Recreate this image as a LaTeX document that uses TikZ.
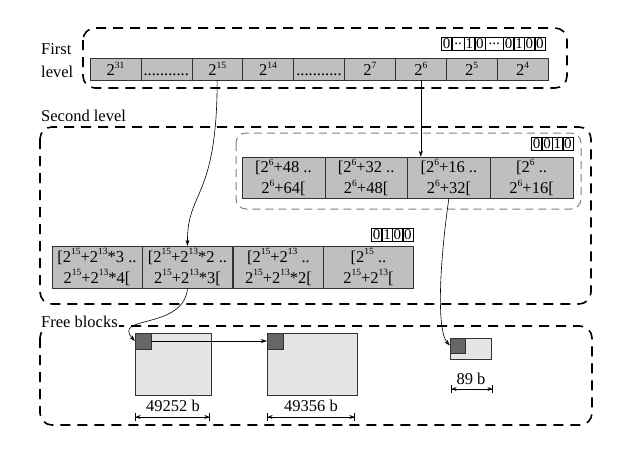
\documentclass[tikz,border=0pt]{standalone}
\usepackage{fontspec}
\setmainfont{Liberation Serif}
\usetikzlibrary{arrows.meta,positioning}
\newcommand\pw[1]{2\raisebox{7.5pt}{\fontsize{9.5}{10}\selectfont #1}}

\begin{document}
\begin{tikzpicture}[x=1pt,y=-1pt,
  every node/.style={font=\fontsize{16.5}{21}\selectfont},
  lvl/.style={draw,line width=1.6pt,dash pattern=on 10pt off 7pt,rounded corners=12pt},
  sub/.style={draw=gray,line width=1pt,dash pattern=on 8pt off 5pt,rounded corners=10pt},
  cell/.style={draw=black!80,fill=black!25,minimum width=50.9pt,minimum height=22pt,inner sep=0pt},
  icell/.style={cell,minimum width=82.75pt,minimum height=41pt,align=center},
  rcell/.style={cell,minimum width=90.3pt,minimum height=42pt,align=center},
  bit/.style={draw,fill=white,minimum width=10pt,minimum height=13pt,inner sep=0.5pt,font=\fontsize{15}{15}\selectfont},
  fblk/.style={draw=black!80,fill=black!10,inner sep=0pt},
  hdr/.style={draw=black!80,fill=black!60,minimum size=16pt,inner sep=0pt,anchor=north west},
  lab/.style={inner sep=0pt,font=\fontsize{16.5}{23}\selectfont},
  link/.style={-{Stealth[length=6pt,width=4pt]},line width=0.6pt},
  dim/.style={{Bar[width=8pt]Stealth[length=5pt,width=4pt]}-{Stealth[length=5pt,width=4pt]Bar[width=8pt]},line width=0.6pt}]
  \useasboundingbox (0,0) rectangle (636,448);

  % dashed frames
  \draw[lvl] (83,28) rectangle (567,88);
  \draw[lvl] (40,127) rectangle (591,304);
  \draw[sub] (236,133) rectangle (581,209);
  \draw[lvl] (40,326) rectangle (592,425);

  % labels
  \node[lab,anchor=west,align=left] (lab1) at (41,61) {First\\level};
  \node[lab,anchor=base west] (lab2) at (41,121) {Second level};
  \node[lab,anchor=base west,fill=white,inner sep=1pt] (lab3) at (40,327) {Free blocks};

  % first level
  \node[cell] (f1) at (115.4,69) {\pw{31}};
  \node[cell] (f2) at (166.3,69) {\vphantom{\pw{0}}...........};
  \node[cell] (f3) at (217.2,69) {\pw{15}};
  \node[cell] (f4) at (268.1,69) {\pw{14}};
  \node[cell] (f5) at (319,69) {\vphantom{\pw{0}}...........};
  \node[cell] (f6) at (369.9,69) {\pw{7}};
  \node[cell] (f7) at (420.8,69) {\pw{6}};
  \node[cell] (f8) at (471.7,69) {\pw{5}};
  \node[cell] (f9) at (522.6,69) {\pw{4}};

  \node[bit,anchor=east] (a9) at (545,43.5) {0};
  \node[bit,left=0pt of a9] (a8) {0};
  \node[bit,left=0pt of a8] (a7) {1};
  \node[bit,left=0pt of a7] (a6) {0};
  \node[bit,left=0pt of a6,minimum width=18pt] (a5) {...};
  \node[bit,left=0pt of a5] (a4) {0};
  \node[bit,left=0pt of a4] (a3) {1};
  \node[bit,left=0pt of a3,minimum width=12pt] (a2) {..};
  \node[bit,left=0pt of a2] (a1) {0};

  % second level, 2^6 range
  \node[icell] (i1) at (283.4,177.5) {[\pw{6}+48 ..\\\pw{6}+64[};
  \node[icell] (i2) at (366.1,177.5) {[\pw{6}+32 ..\\\pw{6}+48[};
  \node[icell] (i3) at (448.9,177.5) {[\pw{6}+16 ..\\\pw{6}+32[};
  \node[icell] (i4) at (531.6,177.5) {[\pw{6} ..\\\pw{6}+16[};

  \node[bit,anchor=east] (b4) at (573,143.5) {0};
  \node[bit,left=0pt of b4] (b3) {1};
  \node[bit,left=0pt of b3] (b2) {0};
  \node[bit,left=0pt of b2] (b1) {0};

  % second level, 2^15 range
  \node[rcell] (r1) at (97,267) {[\pw{15}+\pw{13}*3 ..\\\pw{15}+\pw{13}*4[};
  \node[rcell] (r2) at (187.5,267) {[\pw{15}+\pw{13}*2 ..\\\pw{15}+\pw{13}*3[};
  \node[rcell] (r3) at (278.5,267) {[\pw{15}+\pw{13} ..\\\pw{15}+\pw{13}*2[};
  \node[rcell] (r4) at (368.5,267) {[\pw{15} ..\\\pw{15}+\pw{13}[};

  \node[bit,anchor=east] (c4) at (413,234.5) {0};
  \node[bit,left=0pt of c4] (c3) {0};
  \node[bit,left=0pt of c3] (c2) {1};
  \node[bit,left=0pt of c2] (c1) {0};

  % free blocks
  \node[fblk,minimum width=76pt,minimum height=62pt] (fb1) at (173,364) {};
  \node[fblk,minimum width=90pt,minimum height=62pt] (fb2) at (312,364) {};
  \node[fblk,minimum width=41pt,minimum height=21pt] (fb3) at (470.5,348.5) {};
  \node[hdr] (h1) at (fb1.north west) {};
  \node[hdr] (h2) at (fb2.north west) {};
  \node[hdr,minimum size=15pt] (h3) at (fb3.north west) {};

  \node (s1) at (173,406) {49252 b};
  \node (s2) at (311,406) {49356 b};
  \node (s3) at (471,379) {89 b};
  \coordinate (d1l) at (135,417);
  \coordinate (d1r) at (210,417);
  \coordinate (d2l) at (267,417);
  \coordinate (d2r) at (355,417);
  \coordinate (d3l) at (451,389);
  \coordinate (d3r) at (493,389);
  \draw[dim] (d1l) -- (d1r);
  \draw[dim] (d2l) -- (d2r);
  \draw[dim] (d3l) -- (d3r);

  % links
  \draw[link] (f3.south) .. controls (217,200) and (187,190) .. (r2.north);
  \draw[link] (f7.south) -- (f7.south |- i3.north);
  \draw[link] (r2.south) .. controls (184,330) and (112,315) .. (h1.west);
  \draw[link] (h1.east) -- (h2.west);
  \draw[link] (i3.south) .. controls (440,260) and (436,330) .. (h3.west);
\end{tikzpicture}
\end{document}
